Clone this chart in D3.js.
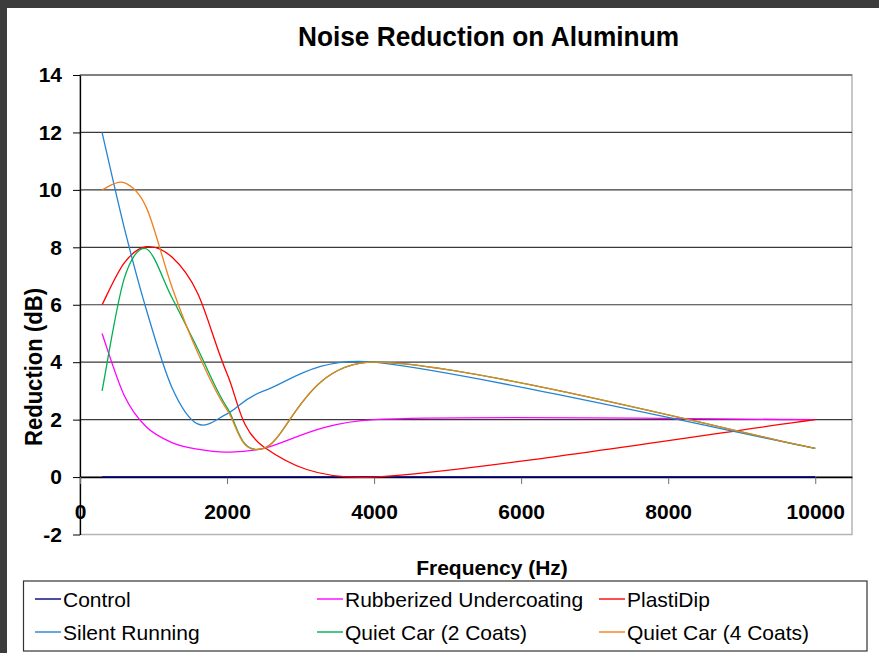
<!DOCTYPE html>
<html>
<head>
<meta charset="utf-8">
<title>Noise Reduction on Aluminum</title>
<script src="https://d3js.org/d3.v7.min.js"></script>
<style>
  body { margin: 0; background: #3c3c3c; }
  svg { display: block; }
  text { font-family: "Liberation Sans", Arial, sans-serif; fill: #000; }
</style>
</head>
<body>
<svg id="chart" width="879" height="653"></svg>
<script>
/*Chart data*/
var chartTitle = "Noise Reduction on Aluminum";
var xTitle = "Frequency (Hz)";
var yTitle = "Reduction (dB)";

var frequencies = [300, 600, 900, 1250, 1600, 2000, 2500, 4000, 10000];
var control = [0, 0, 0, 0, 0, 0, 0, 0, 0];
var rubberized = [5, 2.85, 1.75, 1.2, 0.97, 0.87, 1, 2, 2];
var plastiDip = [6, 7.45, 8.02, 7.66, 6.4, 3.6, 1.05, 0, 2];
var silentRunning = [12, 8.7, 5.85, 3.12, 1.85, 2.2, 3, 4, 1];
var quietCar2 = [3, 6.9, 7.95, 6.25, 4.47, 2.42, 1, 4, 1];
var quietCar4 = [10, 10.25, 9.4, 6.62, 4.34, 2.34, 1, 4, 1];

var seriesNames = ["Control", "Rubberized Undercoating", "PlastiDip",
  "Silent Running", "Quiet Car (2 Coats)", "Quiet Car (4 Coats)"];
var seriesValues = [control, rubberized, plastiDip, silentRunning, quietCar2, quietCar4];

var xTicks = [0, 2000, 4000, 6000, 8000, 10000];
var yTicks = [-2, 0, 2, 4, 6, 8, 10, 12, 14];

/*Styles*/
var seriesColors = ["#000080", "#ff00ff", "#ff0000", "#2484d4", "#00b050", "#f0801e"];

/*Spreadsheet style smoothing: bezier segments, 1/6 tangents, arms capped at half a segment*/
function SmoothCurve(context) {
  this._context = context;
}
SmoothCurve.prototype = {
  areaStart: function() {},
  areaEnd: function() {},
  lineStart: function() { this._x = []; this._y = []; },
  point: function(x, y) { this._x.push(+x); this._y.push(+y); },
  lineEnd: function() {
    var xs = this._x, ys = this._y, n = xs.length, c = this._context;
    if (!n) return;
    function dist(a, b) { return Math.hypot(xs[b] - xs[a], ys[b] - ys[a]); }
    c.moveTo(xs[0], ys[0]);
    for (var i = 0; i < n - 1; i++) {
      var i0 = Math.max(i - 1, 0), i3 = Math.min(i + 2, n - 1);
      var d12 = dist(i, i + 1), d02 = dist(i0, i + 1), d13 = dist(i, i3);
      var f1 = 1 / 6, f2 = 1 / 6;
      if (d02 / 6 > d12 / 2) f1 = d12 / (2 * d02);
      if (d13 / 6 > d12 / 2) f2 = d12 / (2 * d13);
      c.bezierCurveTo(
        xs[i] + (xs[i + 1] - xs[i0]) * f1, ys[i] + (ys[i + 1] - ys[i0]) * f1,
        xs[i + 1] - (xs[i3] - xs[i]) * f2, ys[i + 1] - (ys[i3] - ys[i]) * f2,
        xs[i + 1], ys[i + 1]);
    }
  }
};
function smoothCurve(context) { return new SmoothCurve(context); }

var svg = d3.select("#chart");

//white chart area inside the dark frame
svg.append("rect")
  .attr("x", 7).attr("y", 8)
  .attr("width", 872).attr("height", 645)
  .attr("fill", "#fff");

var plot = {left: 80, right: 852, top: 75, bottom: 534.5};

var x = d3.scaleLinear().domain([0, 10500]).range([plot.left, plot.right]);
var y = d3.scaleLinear().domain([-2, 14]).range([plot.bottom, plot.top]);

//plot area border
svg.append("rect")
  .attr("x", plot.left).attr("y", plot.top)
  .attr("width", plot.right - plot.left).attr("height", plot.bottom - plot.top)
  .attr("fill", "none")
  .attr("stroke", "#b4b4b4")
  .attr("stroke-width", 1.5);

//horizontal gridlines
svg.append("g")
  .attr("class", "grid")
  .selectAll("line")
  .data(yTicks.filter(function(d) { return d > -2; }))
  .enter().append("line")
  .attr("x1", plot.left).attr("x2", plot.right)
  .attr("y1", function(d) { return y(d); })
  .attr("y2", function(d) { return y(d); })
  .attr("stroke", "#3a3a3a")
  .attr("stroke-width", 1.2);

/*Axes*/
function styleTickText(sel) {
  sel.style("font-family", "'Liberation Sans', Arial, sans-serif")
    .style("font-size", "21px")
    .style("font-weight", "bold")
    .attr("fill", "#000");
}

var yAxis = svg.append("g")
  .attr("transform", "translate(" + plot.left + ",0)")
  .call(d3.axisLeft(y).tickValues(yTicks).tickSize(7).tickSizeOuter(0).tickPadding(11)
    .tickFormat(function(d) { return String(d); }));
yAxis.select(".domain").attr("stroke", "#000").attr("stroke-width", 1.3);
yAxis.selectAll(".tick line").attr("stroke", "#000");
styleTickText(yAxis.selectAll(".tick text"));

var xAxis = svg.append("g")
  .attr("transform", "translate(0," + y(0) + ")")
  .call(d3.axisBottom(x).tickValues(xTicks).tickSize(7).tickSizeOuter(0).tickPadding(20.4)
    .tickFormat(function(d) { return String(d); }));
xAxis.select(".domain").attr("stroke", "#000").attr("stroke-width", 1.6);
xAxis.selectAll(".tick line").attr("stroke", "#707070");
styleTickText(xAxis.selectAll(".tick text"));

/*Series*/
var line = d3.line()
  .x(function(d) { return x(d[0]); })
  .y(function(d) { return y(d[1]); })
  .curve(smoothCurve);

var seriesGroup = svg.append("g").attr("class", "series");
for (var i = 0; i < seriesValues.length; i++) {
  var points = frequencies.map(function(f, j) { return [f, seriesValues[i][j]]; });
  seriesGroup.append("path")
    .attr("d", line(points))
    .attr("fill", "none")
    .attr("stroke", seriesColors[i])
    .attr("stroke-width", i === 0 ? 1.6 : 1.3);
}

/*Titles*/
svg.append("text")
  .attr("x", 488.5).attr("y", 45.5)
  .attr("text-anchor", "middle")
  .attr("textLength", 381)
  .attr("lengthAdjust", "spacingAndGlyphs")
  .style("font-size", "28px")
  .style("font-weight", "bold")
  .text(chartTitle);

svg.append("text")
  .attr("x", 492).attr("y", 575)
  .attr("text-anchor", "middle")
  .style("font-size", "21px")
  .style("font-weight", "bold")
  .text(xTitle);

svg.append("text")
  .attr("transform", "translate(41.5,367) rotate(-90)")
  .attr("text-anchor", "middle")
  .attr("textLength", 158)
  .attr("lengthAdjust", "spacingAndGlyphs")
  .style("font-size", "23px")
  .style("font-weight", "bold")
  .text(yTitle);

/*Legend*/
var legendBox = {x: 23.5, y: 581, width: 843.5, height: 70};
svg.append("rect")
  .attr("x", legendBox.x).attr("y", legendBox.y)
  .attr("width", legendBox.width).attr("height", legendBox.height)
  .attr("fill", "#fff")
  .attr("stroke", "#333")
  .attr("stroke-width", 1.2);

var legendCols = [35, 317, 599];
var legendRows = [599, 632];

var legend = svg.append("g").attr("class", "legend")
  .selectAll("g")
  .data(seriesNames)
  .enter().append("g")
  .attr("transform", function(d, i) {
    return "translate(" + legendCols[i % 3] + "," + legendRows[Math.floor(i / 3)] + ")";
  });

legend.append("line")
  .attr("x1", 0).attr("x2", 26)
  .attr("y1", 0).attr("y2", 0)
  .attr("stroke", function(d, i) { return seriesColors[i]; })
  .attr("stroke-width", 1.4);

legend.append("text")
  .attr("x", 28).attr("y", 8)
  .style("font-size", "21px")
  .text(function(d) { return d; });
</script>
</body>
</html>
